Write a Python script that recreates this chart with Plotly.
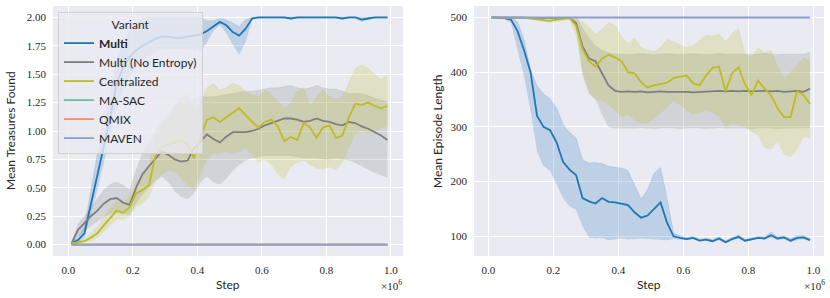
import numpy as np
import plotly.graph_objects as go

# Steps (in units of 1e6)
steps = [round(0.01 + 0.02 * i, 2) for i in range(50)]

variants = ["Multi", "Multi (No Entropy)", "Centralized", "MA-SAC", "QMIX", "MAVEN"]
colors = ["#1f77b4", "#7f7f7f", "#bcbd22", "#66c2a5", "#fc8d62", "#8da0cb"]
band_colors = ["rgba(31,119,180,0.22)", "rgba(127,127,127,0.22)", "rgba(188,189,34,0.22)",
               "rgba(102,194,165,0.2)", "rgba(252,141,98,0.2)", "rgba(141,160,203,0.2)"]

# ---- Left panel: Mean Treasures Found ----
multi_treas = [0.01, 0.04, 0.10, 0.36, 0.63, 0.88, 1.12, 1.42, 1.56, 1.65, 1.71, 1.75, 1.78, 1.81, 1.83,
               1.83, 1.82, 1.82, 1.83, 1.84, 1.85, 1.88, 1.92, 1.96, 1.93, 1.87, 1.84, 1.90, 1.99, 2.00,
               2.00, 2.00, 2.00, 2.00, 1.99, 2.00, 2.00, 2.00, 2.00, 2.00, 2.00, 2.00, 1.99, 2.00, 2.00,
               1.98, 1.99, 2.00, 2.00, 2.00]
multi_treas_lo = [0.00, 0.02, 0.06, 0.26, 0.48, 0.72, 0.96, 1.20, 1.36, 1.48, 1.56, 1.62, 1.66, 1.69, 1.71,
                  1.72, 1.72, 1.72, 1.72, 1.71, 1.70, 1.78, 1.88, 1.93, 1.86, 1.76, 1.67, 1.78, 1.98, 1.99,
                  1.99, 1.99, 1.99, 1.99, 1.98, 1.99, 1.99, 1.99, 1.99, 1.99, 1.99, 1.99, 1.98, 1.99, 1.99,
                  1.96, 1.98, 1.99, 1.99, 1.99]
multi_treas_hi = [0.02, 0.06, 0.16, 0.48, 0.80, 1.06, 1.32, 1.62, 1.78, 1.88, 1.95, 1.99, 2.00, 2.00, 2.00,
                  2.00, 2.00, 2.00, 2.00, 2.00, 2.00, 1.97, 1.97, 1.99, 1.98, 1.95, 1.92, 1.98, 2.00, 2.00,
                  2.00, 2.00, 2.00, 2.00, 2.00, 2.00, 2.00, 2.00, 2.00, 2.00, 2.00, 2.00, 2.00, 2.00, 2.00,
                  2.00, 2.00, 2.00, 2.00, 2.00]

noent_treas = [0.01, 0.13, 0.19, 0.25, 0.30, 0.36, 0.40, 0.41, 0.37, 0.35, 0.50, 0.62, 0.69, 0.76, 0.82,
               0.79, 0.75, 0.73, 0.74, 0.85, 0.91, 0.97, 0.93, 0.90, 0.95, 0.99, 0.99, 0.99, 1.00, 1.02,
               1.05, 1.07, 1.09, 1.11, 1.11, 1.10, 1.08, 1.09, 1.11, 1.09, 1.08, 1.06, 1.05, 1.08, 1.07,
               1.04, 1.02, 0.99, 0.96, 0.92]
noent_treas_lo = [0.00, 0.07, 0.12, 0.16, 0.20, 0.24, 0.27, 0.28, 0.27, 0.26, 0.36, 0.44, 0.50, 0.56, 0.60,
                  0.55, 0.47, 0.42, 0.40, 0.45, 0.55, 0.60, 0.55, 0.53, 0.58, 0.65, 0.70, 0.74, 0.76, 0.77,
                  0.78, 0.78, 0.78, 0.78, 0.78, 0.77, 0.76, 0.76, 0.76, 0.75, 0.75, 0.76, 0.75, 0.74, 0.72,
                  0.69, 0.66, 0.63, 0.61, 0.59]
noent_treas_hi = [0.02, 0.18, 0.25, 0.33, 0.40, 0.48, 0.53, 0.55, 0.52, 0.48, 0.65, 0.80, 0.90, 1.00, 1.08,
                  1.15, 1.22, 1.25, 1.25, 1.28, 1.30, 1.30, 1.30, 1.31, 1.32, 1.33, 1.34, 1.35, 1.35, 1.36,
                  1.37, 1.38, 1.38, 1.39, 1.40, 1.38, 1.37, 1.38, 1.40, 1.38, 1.37, 1.37, 1.35, 1.33, 1.33,
                  1.33, 1.31, 1.29, 1.27, 1.26]

central_treas = [0.01, 0.02, 0.03, 0.06, 0.10, 0.17, 0.24, 0.30, 0.28, 0.33, 0.45, 0.48, 0.52, 0.78, 0.86,
                 0.88, 0.90, 0.92, 0.88, 0.76, 0.95, 1.10, 1.12, 1.08, 1.12, 1.16, 1.20, 1.14, 1.08, 1.03,
                 1.08, 1.10, 1.04, 0.91, 0.95, 0.92, 1.07, 1.03, 0.94, 1.03, 1.05, 0.94, 0.96, 1.12, 1.24,
                 1.23, 1.25, 1.22, 1.20, 1.22]
central_treas_lo = [0.00, 0.01, 0.02, 0.03, 0.06, 0.11, 0.17, 0.22, 0.22, 0.25, 0.33, 0.36, 0.42, 0.55, 0.62,
                    0.65, 0.64, 0.58, 0.52, 0.48, 0.62, 0.74, 0.80, 0.80, 0.82, 0.80, 0.82, 0.85, 0.78, 0.72,
                    0.75, 0.70, 0.62, 0.57, 0.68, 0.72, 0.74, 0.70, 0.67, 0.66, 0.68, 0.66, 0.72, 0.85, 0.97,
                    1.00, 0.98, 1.00, 1.02, 1.04]
central_treas_hi = [0.02, 0.03, 0.05, 0.10, 0.16, 0.24, 0.32, 0.38, 0.37, 0.42, 0.55, 0.60, 0.68, 0.95, 1.05,
                    1.10, 1.20, 1.30, 1.33, 1.15, 1.25, 1.38, 1.42, 1.36, 1.38, 1.42, 1.40, 1.34, 1.32, 1.30,
                    1.36, 1.32, 1.26, 1.20, 1.24, 1.35, 1.38, 1.22, 1.30, 1.36, 1.30, 1.28, 1.30, 1.42, 1.55,
                    1.58, 1.55, 1.50, 1.45, 1.50]

masac_treas = [0.0] * 50
qmix_treas = [0.0] * 50
maven_treas = [0.0] * 50

# ---- Right panel: Mean Episode Length ----
multi_len = [500, 500, 499, 496, 475, 440, 400, 320, 300, 294, 272, 236, 222, 212, 170,
             164, 160, 170, 163, 162, 160, 157, 144, 134, 138, 150, 162, 125, 100, 97,
             95, 97, 92, 94, 91, 96, 89, 95, 99, 92, 94, 97, 96, 102, 96,
             98, 92, 97, 98, 93]
multi_len_lo = [500, 499, 497, 490, 440, 392, 330, 255, 228, 220, 195, 170, 155, 148, 118,
                98, 96, 97, 93, 95, 96, 94, 95, 96, 95, 94, 93, 93, 95, 94,
                93, 95, 91, 92, 89, 93, 87, 92, 96, 90, 92, 95, 94, 98, 93,
                95, 89, 93, 95, 91]
multi_len_hi = [500, 500, 500, 500, 492, 460, 405, 375, 360, 352, 335, 305, 290, 280, 240,
                234, 235, 233, 228, 227, 225, 220, 195, 168, 185, 215, 226, 170, 106, 101,
                98, 100, 95, 97, 94, 99, 92, 98, 102, 95, 97, 100, 99, 108, 99,
                101, 96, 101, 101, 96]

noent_len = [500, 500, 500, 500, 500, 500, 500, 500, 500, 500, 500, 500, 499, 490, 447,
             425, 420, 398, 376, 366, 364, 365, 364, 365, 363, 364, 365, 364, 364, 365,
             364, 363, 364, 364, 365, 366, 365, 366, 365, 366, 365, 366, 366, 365, 366,
             364, 365, 366, 364, 370]
noent_len_lo = [500, 500, 500, 500, 500, 500, 500, 500, 500, 500, 500, 500, 500, 482, 395,
                360, 350, 322, 300, 297, 297, 296, 297, 298, 297, 296, 297, 298, 297, 296,
                297, 298, 297, 296, 297, 298, 297, 297, 298, 297, 296, 297, 298, 297, 296,
                297, 297, 298, 297, 298]
noent_len_hi = [500, 500, 500, 500, 500, 500, 500, 500, 500, 500, 500, 500, 500, 500, 480,
                462, 448, 440, 435, 433, 433, 432, 433, 434, 433, 432, 433, 434, 433, 432,
                433, 434, 433, 432, 433, 434, 433, 433, 434, 433, 432, 433, 434, 433, 432,
                433, 433, 434, 433, 437]

central_len = [500, 500, 500, 500, 500, 500, 498, 497, 495, 494, 496, 497, 499, 485, 442,
               420, 410, 425, 432, 427, 420, 400, 398, 382, 372, 376, 379, 381, 389, 392,
               394, 380, 376, 394, 408, 410, 365, 398, 409, 378, 358, 385, 370, 358, 334,
               318, 318, 365, 358, 342]
central_len_lo = [500, 500, 500, 500, 500, 500, 496, 494, 491, 490, 492, 494, 496, 465, 400,
                  362, 350, 348, 340, 330, 318, 322, 312, 306, 306, 315, 325, 335, 348, 340,
                  330, 322, 326, 330, 325, 318, 300, 305, 303, 300, 290, 285, 262, 258, 272,
                  250, 245, 258, 282, 279]
central_len_hi = [500, 500, 500, 500, 500, 500, 500, 500, 500, 500, 500, 500, 500, 498, 492,
                  482, 470, 478, 490, 486, 465, 452, 462, 445, 440, 438, 445, 460, 455, 450,
                  445, 448, 458, 468, 466, 470, 455, 470, 480, 432, 428, 445, 435, 440, 410,
                  388, 400, 412, 426, 420]

masac_len = [500] * 50
qmix_len = [500] * 50
maven_len = [500] * 50

x_ticks = [0.0, 0.2, 0.4, 0.6, 0.8, 1.0]
left_y_ticks = [0.0, 0.25, 0.5, 0.75, 1.0, 1.25, 1.5, 1.75, 2.0]
right_y_ticks = [100, 200, 300, 400, 500]

left_series = [
    (multi_treas, multi_treas_lo, multi_treas_hi),
    (noent_treas, noent_treas_lo, noent_treas_hi),
    (central_treas, central_treas_lo, central_treas_hi),
    (masac_treas, None, None),
    (qmix_treas, None, None),
    (maven_treas, None, None),
]
right_series = [
    (multi_len, multi_len_lo, multi_len_hi),
    (noent_len, noent_len_lo, noent_len_hi),
    (central_len, central_len_lo, central_len_hi),
    (masac_len, None, None),
    (qmix_len, None, None),
    (maven_len, None, None),
]

fig = go.Figure()

def add_panel(series, xa, ya, show_legend, widths):
    # bands first
    for i, (mean, lo, hi) in enumerate(series):
        if lo is not None:
            fig.add_trace(go.Scatter(x=steps, y=lo, xaxis=xa, yaxis=ya, mode="lines",
                                     line=dict(width=0), showlegend=False, hoverinfo="skip"))
            fig.add_trace(go.Scatter(x=steps, y=hi, xaxis=xa, yaxis=ya, mode="lines",
                                     line=dict(width=0.6, color=band_colors[i]), fill="tonexty",
                                     fillcolor=band_colors[i], showlegend=False, hoverinfo="skip"))
    # then mean lines
    for i, (mean, lo, hi) in enumerate(series):
        name = "<b>Multi</b>" if variants[i] == "Multi" else variants[i]
        fig.add_trace(go.Scatter(x=steps, y=mean, xaxis=xa, yaxis=ya, mode="lines",
                                 line=dict(width=widths[i], color=colors[i]), name=name,
                                 showlegend=show_legend))

add_panel(left_series, "x", "y", True, [1.8, 1.8, 1.8, 1.8, 1.8, 1.8])
add_panel(right_series, "x2", "y2", False, [1.8, 1.8, 1.8, 1.2, 1.2, 1.8])

tickfont = dict(family="Liberation Serif, DejaVu Serif, serif", size=11, color="#262626")
axis_common = dict(showgrid=True, gridcolor="white", gridwidth=1, zeroline=False,
                   showline=False, tickfont=tickfont, ticks="", ticklabelstandoff=6)

fig.update_layout(
    width=830, height=298,
    margin=dict(l=0, r=0, t=0, b=0),
    paper_bgcolor="white", plot_bgcolor="#EAEAF2",
    font=dict(family="Lato, DejaVu Sans, sans-serif", size=12, color="#262626"),
    xaxis=dict(domain=[53 / 830, 403 / 830], range=[-0.0475, 1.038], tickvals=x_ticks,
               tickformat=".1f", anchor="y", **axis_common),
    yaxis=dict(domain=[1 - 256 / 298, 1 - 6 / 298], range=[-0.1, 2.1], tickvals=left_y_ticks,
               tickformat=".2f", anchor="x", **axis_common),
    xaxis2=dict(domain=[474 / 830, 824 / 830], range=[-0.044, 1.033], tickvals=x_ticks,
                tickformat=".1f", anchor="y2", **axis_common),
    yaxis2=dict(domain=[1 - 256 / 298, 1 - 6 / 298], range=[64, 521], tickvals=right_y_ticks,
                tickformat="d", anchor="x2", **axis_common),
    legend=dict(x=58 / 830, y=1 - 12 / 298, xanchor="left", yanchor="top", traceorder="normal",
                bgcolor="rgba(234,234,242,0.8)", bordercolor="rgba(204,204,204,0.8)", borderwidth=1,
                title=dict(text="Variant", side="top center", font=dict(size=12)),
                font=dict(size=12), tracegroupgap=0, itemwidth=30),
    showlegend=True,
)

ann_font = dict(family="Lato, DejaVu Sans, sans-serif", size=12, color="#262626")
annotations = [
    dict(text="Step", x=228 / 830, y=1 - 284 / 298, xref="paper", yref="paper", showarrow=False,
         font=ann_font, xanchor="center", yanchor="middle"),
    dict(text="Step", x=649 / 830, y=1 - 284 / 298, xref="paper", yref="paper", showarrow=False,
         font=ann_font, xanchor="center", yanchor="middle"),
    dict(text="Mean Treasures Found", x=10 / 830, y=1 - 131 / 298, xref="paper", yref="paper",
         showarrow=False, font=ann_font, textangle=-90, xanchor="center", yanchor="middle"),
    dict(text="Mean Episode Length", x=437 / 830, y=1 - 131 / 298, xref="paper", yref="paper",
         showarrow=False, font=ann_font, textangle=-90, xanchor="center", yanchor="middle"),
    dict(text="×10<sup>6</sup>", x=404 / 830, y=1 - 285 / 298, xref="paper", yref="paper",
         showarrow=False, font=tickfont, xanchor="right", yanchor="middle"),
    dict(text="×10<sup>6</sup>", x=827 / 830, y=1 - 285 / 298, xref="paper", yref="paper",
         showarrow=False, font=tickfont, xanchor="right", yanchor="middle"),
]
fig.update_layout(annotations=annotations)

fig.write_html("out.html", config={"displayModeBar": False},
               post_script="document.body.style.margin='0';document.body.style.overflow='hidden';")
